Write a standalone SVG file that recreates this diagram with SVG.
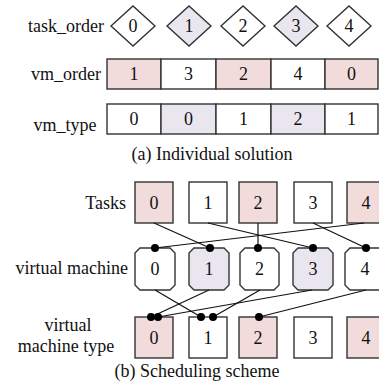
<svg xmlns="http://www.w3.org/2000/svg" width="379" height="388" viewBox="0 0 379 388">
<style>
text{font-family:'Liberation Serif','Times New Roman',serif;font-size:18px;fill:#111}
.c{text-anchor:middle}
.e{text-anchor:end}
.s{stroke:#333;stroke-width:1.4}
.w{fill:#fff}
.p{fill:#f2dcdb}
.l{fill:#e9e6f0}
.ln{stroke:#111;stroke-width:1.2;fill:none}
.d{fill:#000}
</style>
<rect width="379" height="388" fill="#fff"/>
<g id="task_order">
<text class="c" x="66" y="32">task_order</text>
<g id="to0"><polygon class="s w" points="111,26 133,6 155,26 133,46"/><text class="c" x="133" y="32">0</text></g>
<g id="to1"><polygon class="s l" points="167,26 189,6 211,26 189,46"/><text class="c" x="189" y="32">1</text></g>
<g id="to2"><polygon class="s w" points="221,26 243,6 265,26 243,46"/><text class="c" x="243" y="32">2</text></g>
<g id="to3"><polygon class="s l" points="274,26 296,6 318,26 296,46"/><text class="c" x="296" y="32">3</text></g>
<g id="to4"><polygon class="s w" points="327,26 349,6 371,26 349,46"/><text class="c" x="349" y="32">4</text></g>
</g>
<g id="vm_order">
<text class="c" x="66" y="80">vm_order</text>
<g id="vo0"><rect class="s p" x="107" y="59" width="54" height="30"/><text class="c" x="134" y="80">1</text></g>
<g id="vo1"><rect class="s w" x="161" y="59" width="55" height="30"/><text class="c" x="188.5" y="80">3</text></g>
<g id="vo2"><rect class="s p" x="216" y="59" width="55" height="30"/><text class="c" x="243.5" y="80">2</text></g>
<g id="vo3"><rect class="s w" x="271" y="59" width="54" height="30"/><text class="c" x="298" y="80">4</text></g>
<g id="vo4"><rect class="s p" x="325" y="59" width="53" height="30"/><text class="c" x="351.5" y="80">0</text></g>
</g>
<g id="vm_type">
<text class="c" x="65" y="131">vm_type</text>
<g id="vt0"><rect class="s w" x="107" y="104" width="54" height="30"/><text class="c" x="134" y="125">0</text></g>
<g id="vt1"><rect class="s l" x="161" y="104" width="55" height="30"/><text class="c" x="188.5" y="125">0</text></g>
<g id="vt2"><rect class="s w" x="216" y="104" width="55" height="30"/><text class="c" x="243.5" y="125">1</text></g>
<g id="vt3"><rect class="s l" x="271" y="104" width="54" height="30"/><text class="c" x="298" y="125">2</text></g>
<g id="vt4"><rect class="s w" x="325" y="104" width="53" height="30"/><text class="c" x="351.5" y="125">1</text></g>
</g>
<text id="cap_a" class="c" x="212" y="160">(a) Individual solution</text>
<text id="lbl_tasks" class="e" x="126" y="209">Tasks</text>
<text id="lbl_vm" class="e" x="128" y="274">virtual machine</text>
<text id="lbl_vmt1" class="c" x="68" y="331">virtual</text>
<text id="lbl_vmt2" class="c" x="66" y="352">machine type</text>
<g id="tasks">
<g id="t0"><rect class="s p" x="135" y="182" width="38" height="41"/><text class="c" x="154" y="209">0</text></g>
<g id="t1"><rect class="s w" x="189" y="182" width="38" height="41"/><text class="c" x="208" y="209">1</text></g>
<g id="t2"><rect class="s p" x="239" y="182" width="38" height="41"/><text class="c" x="258" y="209">2</text></g>
<g id="t3"><rect class="s w" x="294" y="182" width="38" height="41"/><text class="c" x="313" y="209">3</text></g>
<g id="t4"><rect class="s p" x="347" y="182" width="38" height="41"/><text class="c" x="366" y="209">4</text></g>
</g>
<g id="vms">
<g id="vm0"><polygon class="s w" points="140,248 170,248 175,253 175,285 170,290 140,290 135,285 135,253"/><text class="c" x="155" y="275">0</text></g>
<g id="vm1"><polygon class="s l" points="194,248 224,248 229,253 229,285 224,290 194,290 189,285 189,253"/><text class="c" x="209" y="275">1</text></g>
<g id="vm2"><polygon class="s w" points="245,248 274,248 279,253 279,285 274,290 245,290 240,285 240,253"/><text class="c" x="259.5" y="275">2</text></g>
<g id="vm3"><polygon class="s l" points="298,248 328,248 333,253 333,285 328,290 298,290 293,285 293,253"/><text class="c" x="313" y="275">3</text></g>
<g id="vm4"><polygon class="s w" points="350,248 380,248 385,253 385,285 380,290 350,290 345,285 345,253"/><text class="c" x="365" y="275">4</text></g>
</g>
<g id="types">
<g id="ty0"><rect class="s p" x="135" y="317" width="38" height="41"/><text class="c" x="154" y="344">0</text></g>
<g id="ty1"><rect class="s w" x="189" y="317" width="38" height="41"/><text class="c" x="208" y="344">1</text></g>
<g id="ty2"><rect class="s p" x="239" y="317" width="38" height="41"/><text class="c" x="258" y="344">2</text></g>
<g id="ty3"><rect class="s w" x="294" y="317" width="38" height="41"/><text class="c" x="313" y="344">3</text></g>
<g id="ty4"><rect class="s p" x="347" y="317" width="38" height="41"/><text class="c" x="366" y="344">4</text></g>
</g>
<text id="cap_b" class="c" x="197" y="377">(b) Scheduling scheme</text>
<g id="connectors">
<line class="ln" x1="154" y1="223" x2="210" y2="248"/>
<line class="ln" x1="208" y1="223" x2="313" y2="248"/>
<line class="ln" x1="258" y1="223" x2="258" y2="248"/>
<line class="ln" x1="313" y1="223" x2="366" y2="248"/>
<line class="ln" x1="364" y1="223" x2="155" y2="248"/>
<circle class="d" cx="155" cy="248" r="4"/>
<circle class="d" cx="210" cy="248" r="4"/>
<circle class="d" cx="258" cy="248" r="4"/>
<circle class="d" cx="313" cy="248" r="4"/>
<circle class="d" cx="366" cy="248" r="4"/>
<line class="ln" x1="155" y1="290" x2="201" y2="317"/>
<line class="ln" x1="209" y1="290" x2="151" y2="317"/>
<line class="ln" x1="260" y1="290" x2="213" y2="317"/>
<line class="ln" x1="312" y1="290" x2="158" y2="317"/>
<line class="ln" x1="366" y1="290" x2="259" y2="317"/>
<circle class="d" cx="151" cy="317" r="4"/>
<circle class="d" cx="158" cy="317" r="4"/>
<circle class="d" cx="201" cy="317" r="4"/>
<circle class="d" cx="213" cy="317" r="4"/>
<circle class="d" cx="259" cy="317" r="4"/>
</g>
</svg>
